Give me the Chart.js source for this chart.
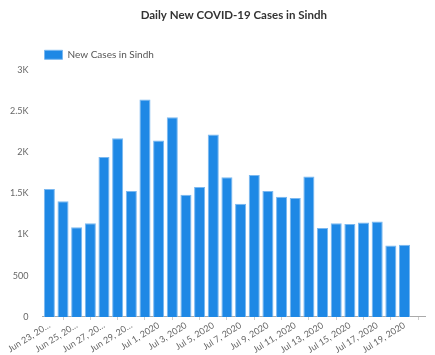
<!DOCTYPE html>
<html>
<head>
<meta charset="utf-8">
<script src="https://cdn.jsdelivr.net/npm/chart.js@4"></script>
<style>
html,body{margin:0;padding:0;background:#fff;}
#wrap{width:435px;height:355px;}
</style>
</head>
<body>
<div id="wrap"><canvas id="c"></canvas></div>
<script>
const categories = [
  "Jun 23, 2020","Jun 24, 2020","Jun 25, 2020","Jun 26, 2020","Jun 27, 2020","Jun 28, 2020",
  "Jun 29, 2020","Jun 30, 2020","Jul 1, 2020","Jul 2, 2020","Jul 3, 2020","Jul 4, 2020",
  "Jul 5, 2020","Jul 6, 2020","Jul 7, 2020","Jul 8, 2020","Jul 9, 2020","Jul 10, 2020",
  "Jul 11, 2020","Jul 12, 2020","Jul 13, 2020","Jul 14, 2020","Jul 15, 2020","Jul 16, 2020",
  "Jul 17, 2020","Jul 18, 2020","Jul 19, 2020","Jul 20, 2020"
];
const newCases = [
  1553, 1404, 1089, 1138, 1942, 2170, 1530, 2640, 2142, 2423, 1485, 1579,
  2215, 1697, 1375, 1722, 1530, 1460, 1444, 1705, 1081, 1138, 1130, 1147,
  1159, 869, 877, null
];
const yTicks = [0, 500, 1000, 1500, 2000, 2500, 3000];
const seriesName = "New Cases in Sindh";
const titleText = "Daily New COVID-19 Cases in Sindh";

const FONT = "Lato, 'Open Sans', sans-serif";
new Chart(document.getElementById('c'), {
  type: 'bar',
  data: {
    labels: categories,
    datasets: [{
      label: seriesName,
      data: newCases,
      backgroundColor: '#1e88e5',
      borderColor: '#7ab8f0',
      borderWidth: 1,
      barPercentage: 0.9,
      categoryPercentage: 0.9
    }]
  },
  options: {
    responsive: true,
    maintainAspectRatio: false,
    animation: false,
    layout: { padding: { left: 4, right: 10, top: 4, bottom: 0 } },
    plugins: {
      title: {
        display: true,
        text: titleText,
        fullSize: false,
        color: '#333',
        font: { family: FONT, size: 11.5, weight: 'bold' },
        padding: { top: 4, bottom: 26 }
      },
      legend: {
        display: true,
        align: 'start',
        fullSize: false,
        labels: {
          boxWidth: 18,
          boxHeight: 9,
          color: '#555',
          font: { family: FONT, size: 10 },
          padding: 2
        }
      },
      tooltip: { enabled: false }
    },
    scales: {
      x: {
        grid: { display: true, drawOnChartArea: false, tickLength: 3, color: '#ccc' },
        border: { display: true, color: '#aaa', width: 1 },
        ticks: {
          color: '#666',
          font: { family: FONT, size: 9 },
          minRotation: 32,
          maxRotation: 32,
          autoSkip: true,
          padding: 0,
          callback: function(v, i) {
            const s = this.getLabelForValue(v);
            if (s.startsWith('Jun')) return s.slice(0, 10) + '…';
            return s;
          }
        }
      },
      y: {
        min: 0,
        max: 3000,
        grid: { display: false },
        border: { display: false },
        afterBuildTicks: function(axis) { axis.ticks = yTicks.map(v => ({ value: v })); },
        ticks: {
          color: '#666',
          font: { family: FONT, size: 9 },
          padding: 6,
          callback: function(v) { return v >= 1000 ? (v / 1000) + 'K' : String(v); }
        }
      }
    }
  }
});
</script>
</body>
</html>
